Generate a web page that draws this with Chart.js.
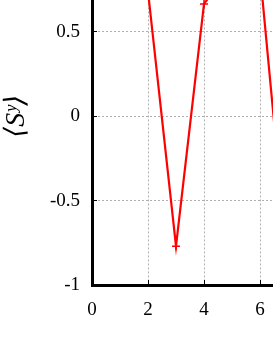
<!DOCTYPE html>
<html>
<head>
<meta charset="utf-8">
<script src="https://cdn.jsdelivr.net/npm/chart.js@4.4.0/dist/chart.umd.min.js"></script>
<style>
  html, body { margin: 0; padding: 0; background: #fff; overflow: hidden; width: 273px; height: 353px; }
  #wrap { position: absolute; left: 0; top: -81px; width: 372px; height: 434px; }
</style>
</head>
<body>
<div id="wrap"><canvas id="chart" width="372" height="434"></canvas></div>
<script>
// values (the plot is cropped at the top and right)
const xValues = [2, 3, 4, 5, 6, 7];
const syValues = [0.74, -0.77, 0.665, 0.88, 0.85, -0.91];
const yTicks = [-1, -0.5, 0, 0.5];
const xTicks = [0, 2, 4, 6, 8];

const serif = '"Liberation Serif", "DejaVu Serif", serif';

const points = xValues.map((x, i) => ({ x, y: syValues[i] }));

const ctx = document.getElementById('chart').getContext('2d');
new Chart(ctx, {
    type: 'line',
    data: {
        datasets: [{
            data: points,
            borderColor: '#ff0000',
            backgroundColor: '#ff0000',
            borderWidth: 2.2,
            pointStyle: 'cross',
            pointRadius: 4,
            pointBorderWidth: 1.5,
            tension: 0
        }]
    },
    options: {
        responsive: false,
        animation: false,
        layout: { padding: 0, autoPadding: false },
        plugins: {
            legend: { display: false },
            tooltip: { enabled: false }
        },
        scales: {
            x: {
                type: 'linear',
                min: 0,
                max: 10,
                afterFit: s => { s.height = 68; },
                afterBuildTicks: s => { s.ticks = xTicks.map(v => ({ value: v })); },
                ticks: {
                    font: { family: serif, size: 19 },
                    color: '#000',
                    padding: 19,
                    maxRotation: 0,
                    callback: v => String(v)
                },
                grid: {
                    color: '#b0b0b0',
                    lineWidth: 1,
                    tickLength: -5,
                    tickColor: '#000',
                    tickWidth: 1,
                    tickBorderDash: []
                },
                border: { color: '#000', width: 3, dash: [2, 2] }
            },
            y: {
                min: -1,
                max: 1,
                afterFit: s => { s.width = 92; },
                afterBuildTicks: s => { s.ticks = yTicks.map(v => ({ value: v })); },
                ticks: {
                    font: { family: serif, size: 19 },
                    color: '#000',
                    padding: 17,
                    callback: v => String(v)
                },
                grid: {
                    color: '#b0b0b0',
                    lineWidth: 1,
                    tickLength: -5,
                    tickColor: '#000',
                    tickWidth: 1,
                    tickBorderDash: []
                },
                border: { color: '#000', width: 3, dash: [2, 2] },
                title: {
                    display: true,
                    text: '\u27E8S\u02B8\u27E9',
                    color: '#000',
                    font: { family: serif, size: 28, style: 'italic' },
                    padding: { top: 0, bottom: 0 }
                }
            }
        }
    }
});
</script>
</body>
</html>
